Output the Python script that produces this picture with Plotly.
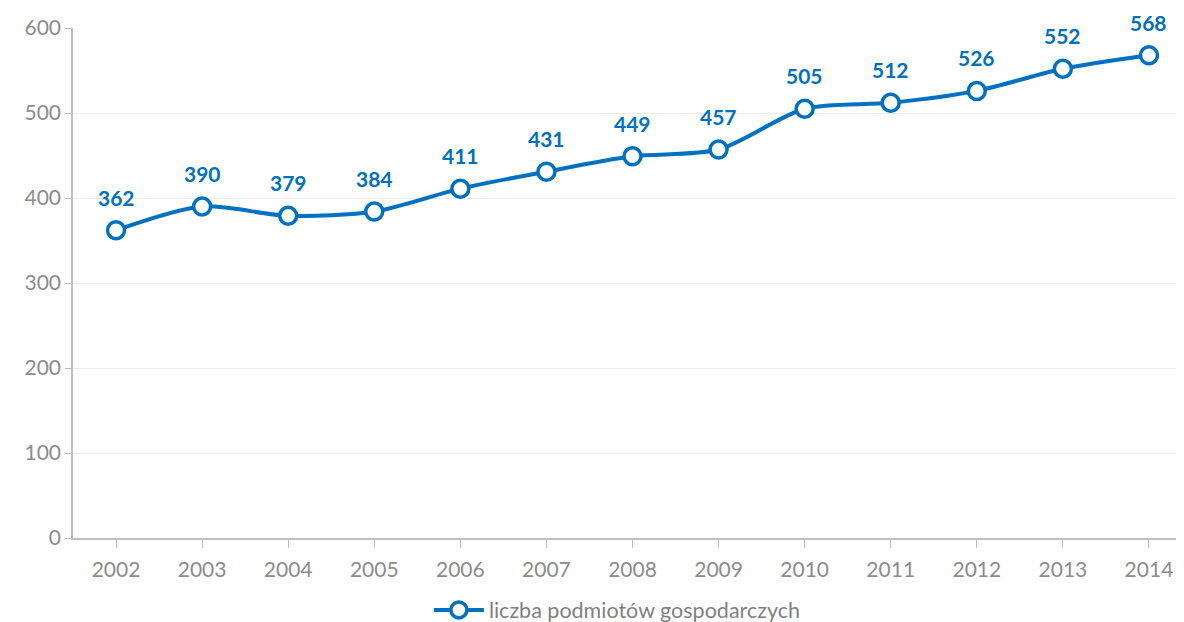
import plotly.graph_objects as go

years = ["2002", "2003", "2004", "2005", "2006", "2007", "2008", "2009", "2010", "2011", "2012", "2013", "2014"]
values = [362, 390, 379, 384, 411, 431, 449, 457, 505, 512, 526, 552, 568]
series_name = "liczba podmiotów gospodarczych"
y_ticks = [0, 100, 200, 300, 400, 500, 600]

blue = "#0070C0"
gray = "#8C8C8C"
font = "Lato, 'Open Sans', sans-serif"

fig = go.Figure()
fig.add_trace(go.Scatter(
    x=list(range(len(years))), y=values, name=series_name,
    mode="lines+markers",
    line=dict(color=blue, width=4, shape="spline", smoothing=0.8),
    marker=dict(size=17, color="white", line=dict(color=blue, width=3.5)),
    showlegend=True,
))

for i, v in enumerate(values):
    fig.add_annotation(x=i, y=v, text=str(v), showarrow=False, yshift=33,
                       font=dict(family=font, size=21, color=blue, weight="bold"))

# page has an 8px body margin, so the figure is sized/positioned to compensate
fig.update_layout(
    width=1176, height=614,
    margin=dict(l=65, r=0, t=20, b=84, autoexpand=False),
    paper_bgcolor="white", plot_bgcolor="white",
    font=dict(family=font, size=21, color=gray),
    legend=dict(orientation="h", x=0.49, xanchor="center", y=-0.141, yanchor="middle",
                font=dict(family=font, size=21.5, color="#7F7F7F"), itemwidth=50),
)
fig.update_xaxes(
    range=[-0.5, 12.407], tickmode="array", tickvals=list(range(len(years))), ticktext=years,
    tickson="boundaries", ticks="outside", ticklen=8, tickcolor="#BFBFBF",
    showline=True, linecolor="#BFBFBF", linewidth=1.5, showgrid=False, zeroline=False,
    tickfont=dict(family=font, size=21, color=gray), automargin=False,
    ticklabelstandoff=4,
)
fig.update_yaxes(
    range=[0, 600], tickvals=y_ticks, ticks="outside", ticklen=6, tickcolor="#BFBFBF",
    showline=True, linecolor="#BFBFBF", linewidth=1.5,
    showgrid=True, gridcolor="#EDEDED", gridwidth=1, zeroline=False,
    tickfont=dict(family=font, size=21, color=gray), automargin=False,
)

fig.write_html("out.html")
